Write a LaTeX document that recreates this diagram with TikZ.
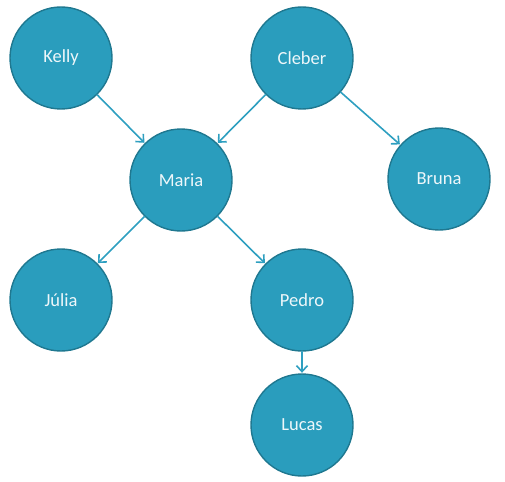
\documentclass[tikz,border=0pt]{standalone}
\usepackage{fontspec}
\setmainfont{Carlito}
\usepackage{xcolor}
\usetikzlibrary{arrows.meta}
\definecolor{nodefill}{HTML}{2A9DBD}
\definecolor{nodeedge}{HTML}{1F7890}
\definecolor{linkcol}{HTML}{2E9FC0}
\definecolor{labelcol}{HTML}{EEF7FA}

\begin{document}
\begin{tikzpicture}[x=1pt,y=-1pt,line cap=round,line join=round,
    person/.style={circle,fill=nodefill,draw=nodeedge,line width=1.4pt,minimum size=102pt,inner sep=0pt,
      text=labelcol,font=\fontsize{18.5}{22}\selectfont},
    link/.style={linkcol,line width=1.6pt,-{Straight Barb[length=6pt,width=11pt,line width=1.6pt]},shorten >=0.5pt}]
    \useasboundingbox (0,0) rectangle (505,481);
    \node[person] (kelly) at (61,58) {Kelly};
    \node[person] (cleber) at (302,58) {Cleber};
    \node[person] (maria) at (181,180) {Maria};
    \node[person] (bruna) at (439,179) {Bruna};
    \node[person] (julia) at (61,300) {Júlia};
    \node[person] (pedro) at (302,300) {Pedro};
    \node[person] (lucas) at (302,425) {Lucas};
    \draw[link] (kelly) -- (maria);
    \draw[link] (cleber) -- (maria);
    \draw[link] (cleber) -- (bruna);
    \draw[link] (maria) -- (julia);
    \draw[link] (maria) -- (pedro);
    \draw[link] (pedro) -- (lucas);
  \end{tikzpicture}
\end{document}
